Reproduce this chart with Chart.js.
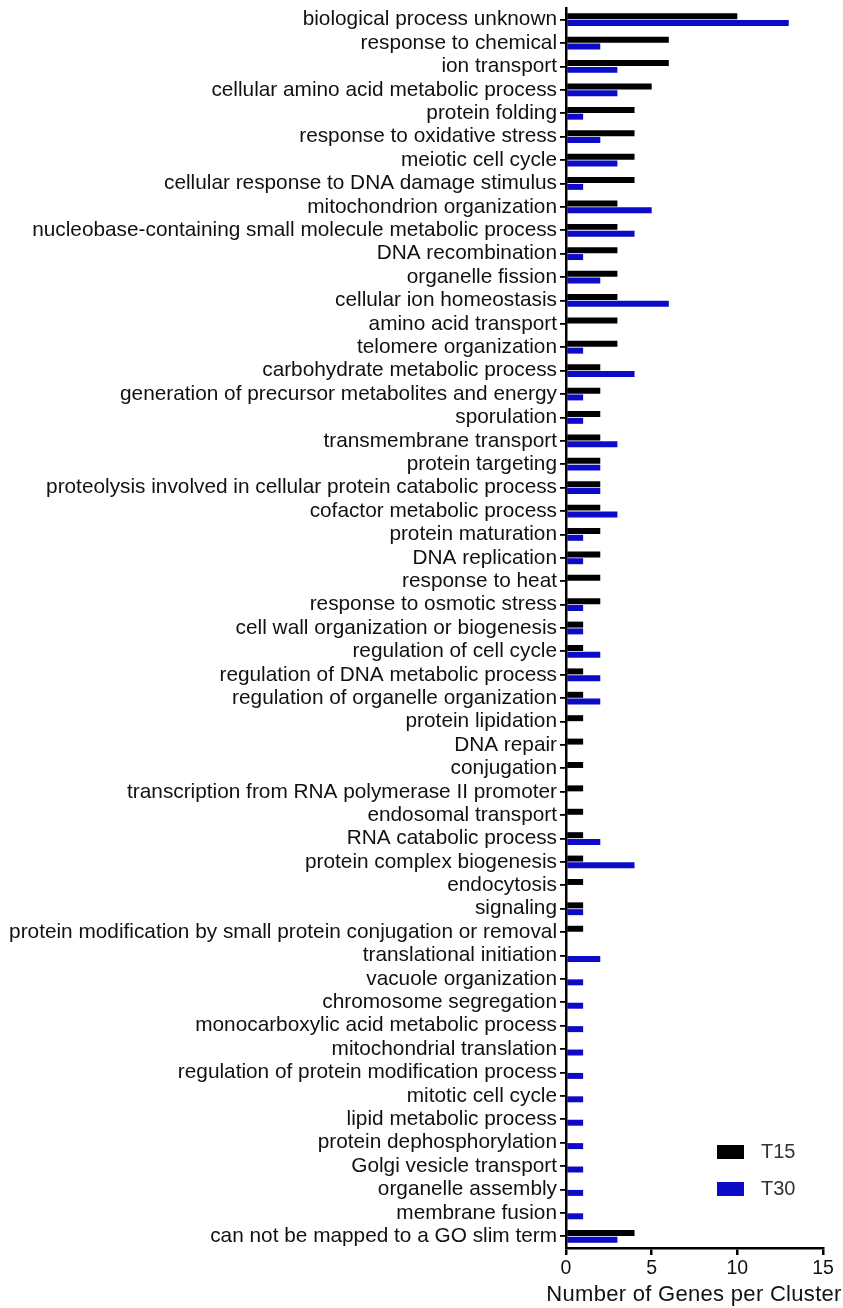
<!DOCTYPE html>
<html><head><meta charset="utf-8">
<script src="https://cdn.jsdelivr.net/npm/chart.js@4/dist/chart.umd.min.js"></script>
<style>html,body{margin:0;padding:0;background:#fff}#wrap{width:843px;height:1308px;position:relative}</style>
</head><body><div id="wrap"><canvas id="c" width="843" height="1308"></canvas></div>
<script>
const categories = [
"biological process unknown","response to chemical","ion transport","cellular amino acid metabolic process",
"protein folding","response to oxidative stress","meiotic cell cycle","cellular response to DNA damage stimulus",
"mitochondrion organization","nucleobase-containing small molecule metabolic process","DNA recombination",
"organelle fission","cellular ion homeostasis","amino acid transport","telomere organization",
"carbohydrate metabolic process","generation of precursor metabolites and energy","sporulation",
"transmembrane transport","protein targeting","proteolysis involved in cellular protein catabolic process",
"cofactor metabolic process","protein maturation","DNA replication","response to heat","response to osmotic stress",
"cell wall organization or biogenesis","regulation of cell cycle","regulation of DNA metabolic process",
"regulation of organelle organization","protein lipidation","DNA repair","conjugation",
"transcription from RNA polymerase II promoter","endosomal transport","RNA catabolic process",
"protein complex biogenesis","endocytosis","signaling","protein modification by small protein conjugation or removal",
"translational initiation","vacuole organization","chromosome segregation","monocarboxylic acid metabolic process",
"mitochondrial translation","regulation of protein modification process","mitotic cell cycle","lipid metabolic process",
"protein dephosphorylation","Golgi vesicle transport","organelle assembly","membrane fusion",
"can not be mapped to a GO slim term"];
const t15 = [10,6,6,5,4,4,4,4,3,3,3,3,3,3,3,2,2,2,2,2,2,2,2,2,2,2,1,1,1,1,1,1,1,1,1,1,1,1,1,1,0,0,0,0,0,0,0,0,0,0,0,0,4];
const t30 = [13,2,3,3,1,2,3,1,5,4,1,2,6,0,1,4,1,1,3,2,2,3,1,1,0,1,1,2,2,2,0,0,0,0,0,2,4,0,1,0,2,1,1,1,1,1,1,1,1,1,1,1,3];
const seriesNames = ["T15","T30"];
const seriesColors = ["#000000","#0b0bc8"];
const xTicks = [0,5,10,15];
const xTitle = "Number of Genes per Cluster";

const FAMILY = '"Liberation Sans", Arial, sans-serif';

const extrasPlugin = {
  id:'extras',
  afterDraw(chart){
    const ctx = chart.ctx;
    ctx.save();
    chart.data.datasets.forEach((ds,i)=>{
      const y = 1145 + i*37;
      ctx.fillStyle = ds.backgroundColor;
      ctx.fillRect(717, y, 27, 14);
      ctx.fillStyle = '#333';
      ctx.font = '20px ' + FAMILY;
      ctx.textBaseline = 'middle';
      ctx.textAlign = 'left';
      ctx.fillText(ds.label, 761, y + 7);
    });
    ctx.fillStyle = '#111';
    ctx.font = '22px ' + FAMILY;
    try { ctx.letterSpacing = '0.3px'; } catch(e) {}
    ctx.textAlign = 'center';
    ctx.textBaseline = 'middle';
    ctx.fillText(xTitle, 694, 1295);
    ctx.restore();
  }
};

new Chart(document.getElementById('c'), {
  type:'bar',
  data:{labels:categories, datasets:[
    {label:seriesNames[0], data:t15, backgroundColor:seriesColors[0], categoryPercentage:0.58, barPercentage:0.88},
    {label:seriesNames[1], data:t30, backgroundColor:seriesColors[1], categoryPercentage:0.58, barPercentage:0.88}
  ]},
  options:{
    indexAxis:'y', responsive:false, animation:false,
    layout:{padding:{top:8,right:20,bottom:0,left:0}},
    plugins:{legend:{display:false}, tooltip:{enabled:false}},
    scales:{
      x:{min:0,max:15,
        afterBuildTicks:s=>{s.ticks = xTicks.map(v=>({value:v}));},
        afterFit:s=>{s.height = 60;},
        grid:{drawOnChartArea:false, color:'#000', lineWidth:2.5, tickLength:7},
        border:{color:'#000', width:2.5},
        ticks:{color:'#111', font:{size:19.5, family:FAMILY}, padding:2, maxRotation:0},
        title:{display:false}
      },
      y:{
        afterFit:s=>{s.width = 566; s.paddingTop = 0; s.paddingBottom = 0;},
        grid:{drawOnChartArea:false, offset:false, color:'#000', lineWidth:1.8, tickLength:6},
        border:{color:'#000', width:2.5},
        ticks:{autoSkip:false, color:'#111', font:{size:20.8, family:FAMILY}, padding:3}
      }
    }
  },
  plugins:[extrasPlugin]
});
</script></body></html>
